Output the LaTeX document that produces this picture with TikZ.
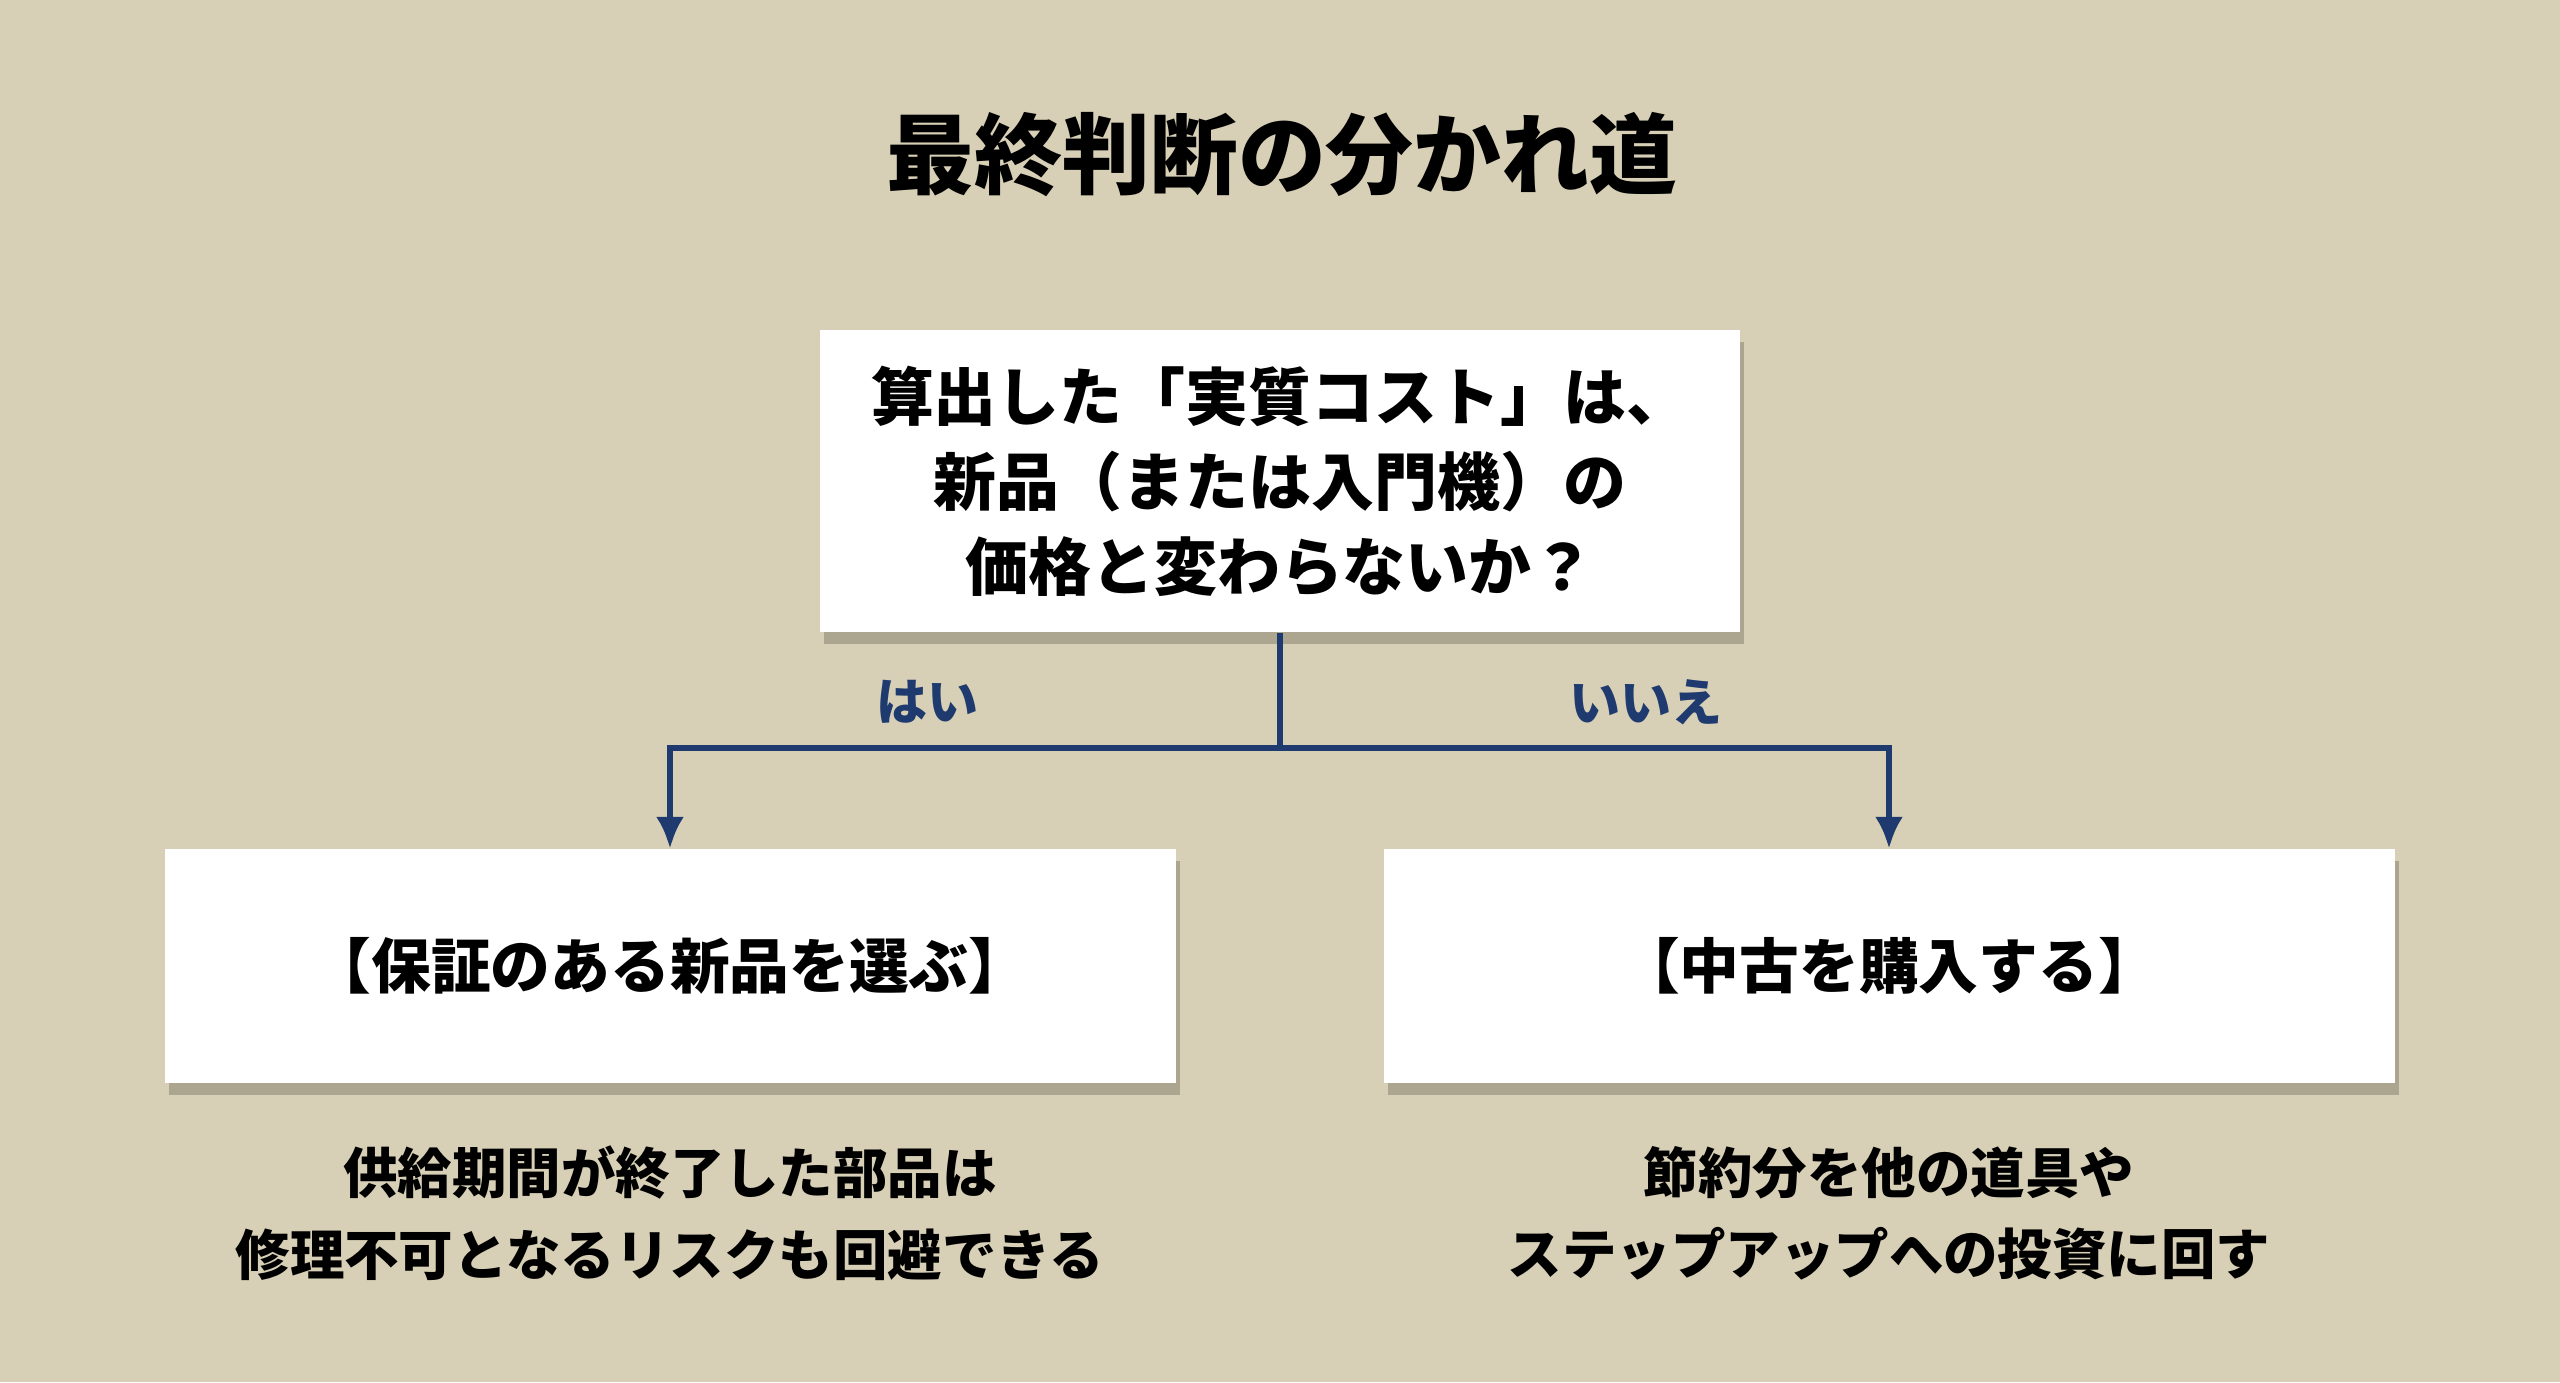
\documentclass[tikz,border=0pt]{standalone}
\usepackage{fontspec}
\setmainfont{Noto Sans CJK JP}
\usepackage{xcolor}
\usepackage{tikz}
\usetikzlibrary{arrows.meta, positioning, shadows}

\definecolor{paper}{HTML}{D7D0B6}
\definecolor{navy}{HTML}{1E3A6E}

\begin{document}
\begin{tikzpicture}[
  node distance=5mm,
  box/.style={rectangle, draw=none, fill=white, align=center, inner sep=0pt,
    drop shadow={shadow xshift=0.4mm, shadow yshift=-1.2mm, fill=black, opacity=0.2}},
  note/.style={align=center, font=\fontsize{15.5pt}{23.3pt}\selectfont\bfseries, inner sep=0pt},
  lbl/.style={text=navy, font=\fontsize{14.5pt}{17pt}\selectfont\bfseries},
  conn/.style={navy, line width=1.7pt},
  arr/.style={conn, -{Latex[length=3.2mm, width=2.8mm]}}
]
\fill[paper] (0,0) rectangle (25.6,13.82);

\node[font=\fontsize{25pt}{30pt}\selectfont\bfseries] (title) at (12.82,12.27) {最終判断の分かれ道};

\node[box, minimum width=9.2cm, minimum height=3.02cm,
  font=\fontsize{17.9pt}{24.2pt}\selectfont\bfseries] (q) at (12.80,9.01)
  {算出した「実質コスト」は、\\新品（または入門機）の\\価格と変わらないか？};

\node[box, minimum width=10.11cm, minimum height=2.33cm,
  font=\fontsize{17pt}{20pt}\selectfont\bfseries] (yes) at (6.70,4.16) {【保証のある新品を選ぶ】};
\node[box, minimum width=10.11cm, minimum height=2.33cm,
  font=\fontsize{17pt}{20pt}\selectfont\bfseries] (no) at (18.89,4.16) {【中古を購入する】};

\node[note, below=6.2mm of yes] (yesnote) {供給期間が終了した部品は\\修理不可となるリスクも回避できる};
\node[note, below=6.2mm of no] (nonote) {節約分を他の道具や\\ステップアップへの投資に回す};

% branch
\coordinate (split) at (12.80,6.34);
\draw[conn] (q.south) -- (split);
\draw[arr] (split) -| (yes.north);
\draw[arr] (split) -| (no.north);

\node[lbl] (yeslbl) at (9.27,6.80) {はい};
\node[lbl] (nolbl) at (16.46,6.80) {いいえ};
\end{tikzpicture}
\end{document}
